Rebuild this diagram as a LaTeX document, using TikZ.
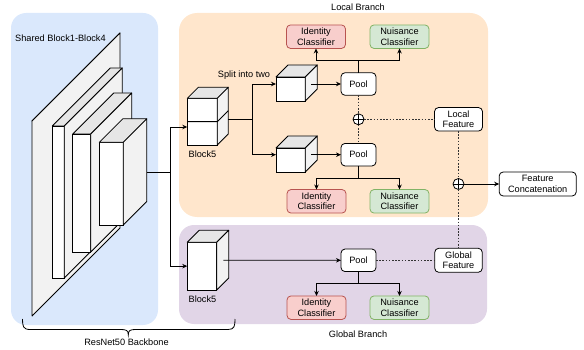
\documentclass[tikz,border=0pt]{standalone}
\usepackage{fontspec}
\setmainfont{Liberation Sans}
\usetikzlibrary{calc,arrows.meta}
\definecolor{bluebg}{HTML}{DAE8FC}
\definecolor{orangebg}{HTML}{FFE6CC}
\definecolor{purplebg}{HTML}{E1D5E7}
\definecolor{idfill}{HTML}{F8CECC}
\definecolor{iddraw}{HTML}{B85450}
\definecolor{nufill}{HTML}{D5E8D4}
\definecolor{nudraw}{HTML}{82B366}
\definecolor{topgray}{HTML}{E6E6E6}
\definecolor{sidegray}{HTML}{F2F2F2}
\definecolor{dotgray}{HTML}{333333}
\tikzset{
  lbl/.style={font=\fontsize{9.2}{10.6}\selectfont, text=black, inner sep=0pt},
  cubefront/.style={draw=black, fill=white, line width=0.8pt, inner sep=0pt, outer sep=0pt},
  cubeline/.style={draw=black, line width=0.8pt, line join=round},
  box/.style={draw=black, fill=white, rounded corners=4pt, line width=0.8pt, align=center,
    font=\fontsize{9.2}{10.6}\selectfont, inner sep=0pt, outer sep=0pt},
  idbox/.style={box, draw=iddraw, fill=idfill, minimum width=59pt, minimum height=23.5pt},
  nubox/.style={box, draw=nudraw, fill=nufill, minimum width=59pt, minimum height=23.5pt},
  poolbox/.style={box, minimum width=35pt, minimum height=22.5pt},
  oplus/.style={circle, draw=black, fill=white, minimum size=11pt, inner sep=0pt, outer sep=0pt, line width=0.8pt},
  conn/.style={draw=black, line width=0.8pt},
  arr/.style={conn, -{Stealth[length=5pt,width=4.5pt]}},
  dots/.style={draw=dotgray, line width=0.5pt, dash pattern=on 1.6pt off 1.6pt},
}
\newcommand\cubefaces[2]{%
  \filldraw[cubeline,fill=topgray] (#1.north west) -- ++(#2,-#2) -- ($(#1.north east)+(#2,-#2)$) -- (#1.north east) -- cycle;
  \filldraw[cubeline,fill=sidegray] (#1.north east) -- ++(#2,-#2) -- ($(#1.south east)+(#2,-#2)$) -- (#1.south east) -- cycle;
}
\newcommand\opluscross[1]{%
  \draw[line width=0.8pt] (#1.north) -- (#1.south) (#1.west) -- (#1.east);
}
\begin{document}
\begin{tikzpicture}[x=1pt,y=-1pt]
\useasboundingbox (0,0) rectangle (584,350);
% backgrounds
\fill[bluebg, rounded corners=15pt] (11,13) rectangle (158,325);
\fill[orangebg, rounded corners=18pt] (179,13) rectangle (488,217);
\fill[purplebg, rounded corners=15pt] (179,225) rectangle (487,324);
% labels
\node[lbl, anchor=west] (tshared) at (15,38) {Shared Block1-Block4};
\node[lbl] (tlocal) at (358,7) {Local Branch};
\node[lbl] (tglobal) at (358,334) {Global Branch};
\node[lbl] (tsplit) at (244,75) {Split into two};
\node[lbl] (tb5l) at (202.5,154) {Block5};
\node[lbl] (tb5g) at (202.5,299) {Block5};
\node[lbl] (tres) at (126.5,342) {ResNet50 Backbone};
% backbone layers
\node[cubefront, minimum width=0pt, minimum height=195pt] (L0) at (32,218.5) {};
\cubefaces{L0}{88}
\node[cubefront, minimum width=12pt, minimum height=152pt] (L1) at (58.3,202) {};
\cubefaces{L1}{58}
\node[cubefront, minimum width=18pt, minimum height=118pt] (L2) at (81.7,193) {};
\cubefaces{L2}{41}
\node[cubefront, minimum width=24pt, minimum height=82.7pt] (L3) at (111.3,183.65) {};
\cubefaces{L3}{23.5}
% block5 local
\node[cubefront, minimum width=30pt, minimum height=46.7pt] (B5L) at (202.3,121.65) {};
\cubefaces{B5L}{11}
\draw[cubeline] (B5L.west) -- (B5L.east) -- ++(11,-11);
% split cubes
\node[cubefront, minimum width=29.3pt, minimum height=24pt] (SA) at (290.65,89) {};
\cubefaces{SA}{12}
\node[cubefront, minimum width=29.3pt, minimum height=24pt] (SB) at (290.65,160) {};
\cubefaces{SB}{12}
% block5 global
\node[cubefront, minimum width=29.5pt, minimum height=47.7pt] (B5G) at (202,266.15) {};
\cubefaces{B5G}{12}
% pools
\node[poolbox] (PA) at (358.5,84) {Pool};
\node[poolbox] (PB) at (358.5,154.7) {Pool};
\node[poolbox] (PG) at (358.5,260.3) {Pool};
% classifiers
\node[idbox] (idA) at (316,36.7) {Identity\\Classifier};
\node[nubox] (nuA) at (399.5,36.7) {Nuisance\\Classifier};
\node[idbox] (idB) at (316.5,201.3) {Identity\\Classifier};
\node[nubox] (nuB) at (399.5,201.3) {Nuisance\\Classifier};
\node[idbox] (idG) at (316.5,307.7) {Identity\\Classifier};
\node[nubox] (nuG) at (399.5,307.7) {Nuisance\\Classifier};
% features
\node[box, minimum width=48pt, minimum height=23.5pt] (LF) at (458.5,119.3) {Local\\Feature};
\node[box, minimum width=47.5pt, minimum height=24pt] (GF) at (458.5,260.3) {Global\\Feature};
\node[box, minimum width=77pt, minimum height=24pt] (FC) at (537.7,184) {Feature\\Concatenation};
\node[oplus] (OL) at (358.5,119.3) {};
\opluscross{OL}
\node[oplus] (OR) at (458.5,184) {};
\opluscross{OR}
% connectors backbone
\coordinate (b3out) at (146.8,172.3);
\coordinate (trunk) at (170,172.3);
\draw[conn] (b3out) -- (trunk);
\draw[arr] (trunk) |- ([yshift=-5.35pt]B5L.west);
\draw[arr] (trunk) |- (B5G.west);
% local split
\coordinate (b5lout) at (228.3,119.3);
\coordinate (fork) at (252.7,119.3);
\draw[conn] (b5lout) -- (fork);
\draw[arr] (fork) |- ([yshift=5pt]SA.west);
\draw[arr] (fork) |- ([yshift=5.3pt]SB.west);
\draw[arr] ([xshift=6pt,yshift=5pt]SA.east) -- (PA.west);
\draw[arr] ([xshift=6pt,yshift=5.3pt]SB.east) -- (PB.west);
\draw[arr] ([xshift=6.5pt,yshift=5.85pt]B5G.east) -- (PG.west);
% pool to classifiers
\coordinate (jA) at (358.5,60.7);
\draw[conn] (PA.north) -- (jA);
\draw[arr] (jA) -| (idA.south);
\draw[arr] (jA) -| (nuA.south);
\coordinate (jB) at (358.5,178.3);
\draw[conn] (PB.south) -- (jB);
\draw[arr] (jB) -| (idB.north);
\draw[arr] (jB) -| (nuB.north);
\coordinate (jG) at (358.5,283.3);
\draw[conn] (PG.south) -- (jG);
\draw[arr] (jG) -| (idG.north);
\draw[arr] (jG) -| (nuG.north);
% dotted feature lines
\draw[dots] (PA.south) -- (OL.north);
\draw[dots] (OL.south) -- (PB.north);
\draw[dots] (OL.east) -- (LF.west);
\draw[dots] (LF.south) -- (OR.north);
\draw[dots] (OR.south) -- (GF.north);
\draw[dots] (PG.east) -- (GF.west);
\draw[arr] (OR.east) -- (FC.west);
% brace
\draw[conn] (22.5,319) .. controls (22.5,326) and (23,329.5) .. (30,329.5) -- (121,329.5)
  .. controls (126.5,329.5) and (128.3,330.5) .. (128.3,335)
  .. controls (128.3,330.5) and (130,329.5) .. (135.5,329.5) -- (228,329.5)
  .. controls (234.5,329.5) and (235,326) .. (235,319);
\end{tikzpicture}
\end{document}
